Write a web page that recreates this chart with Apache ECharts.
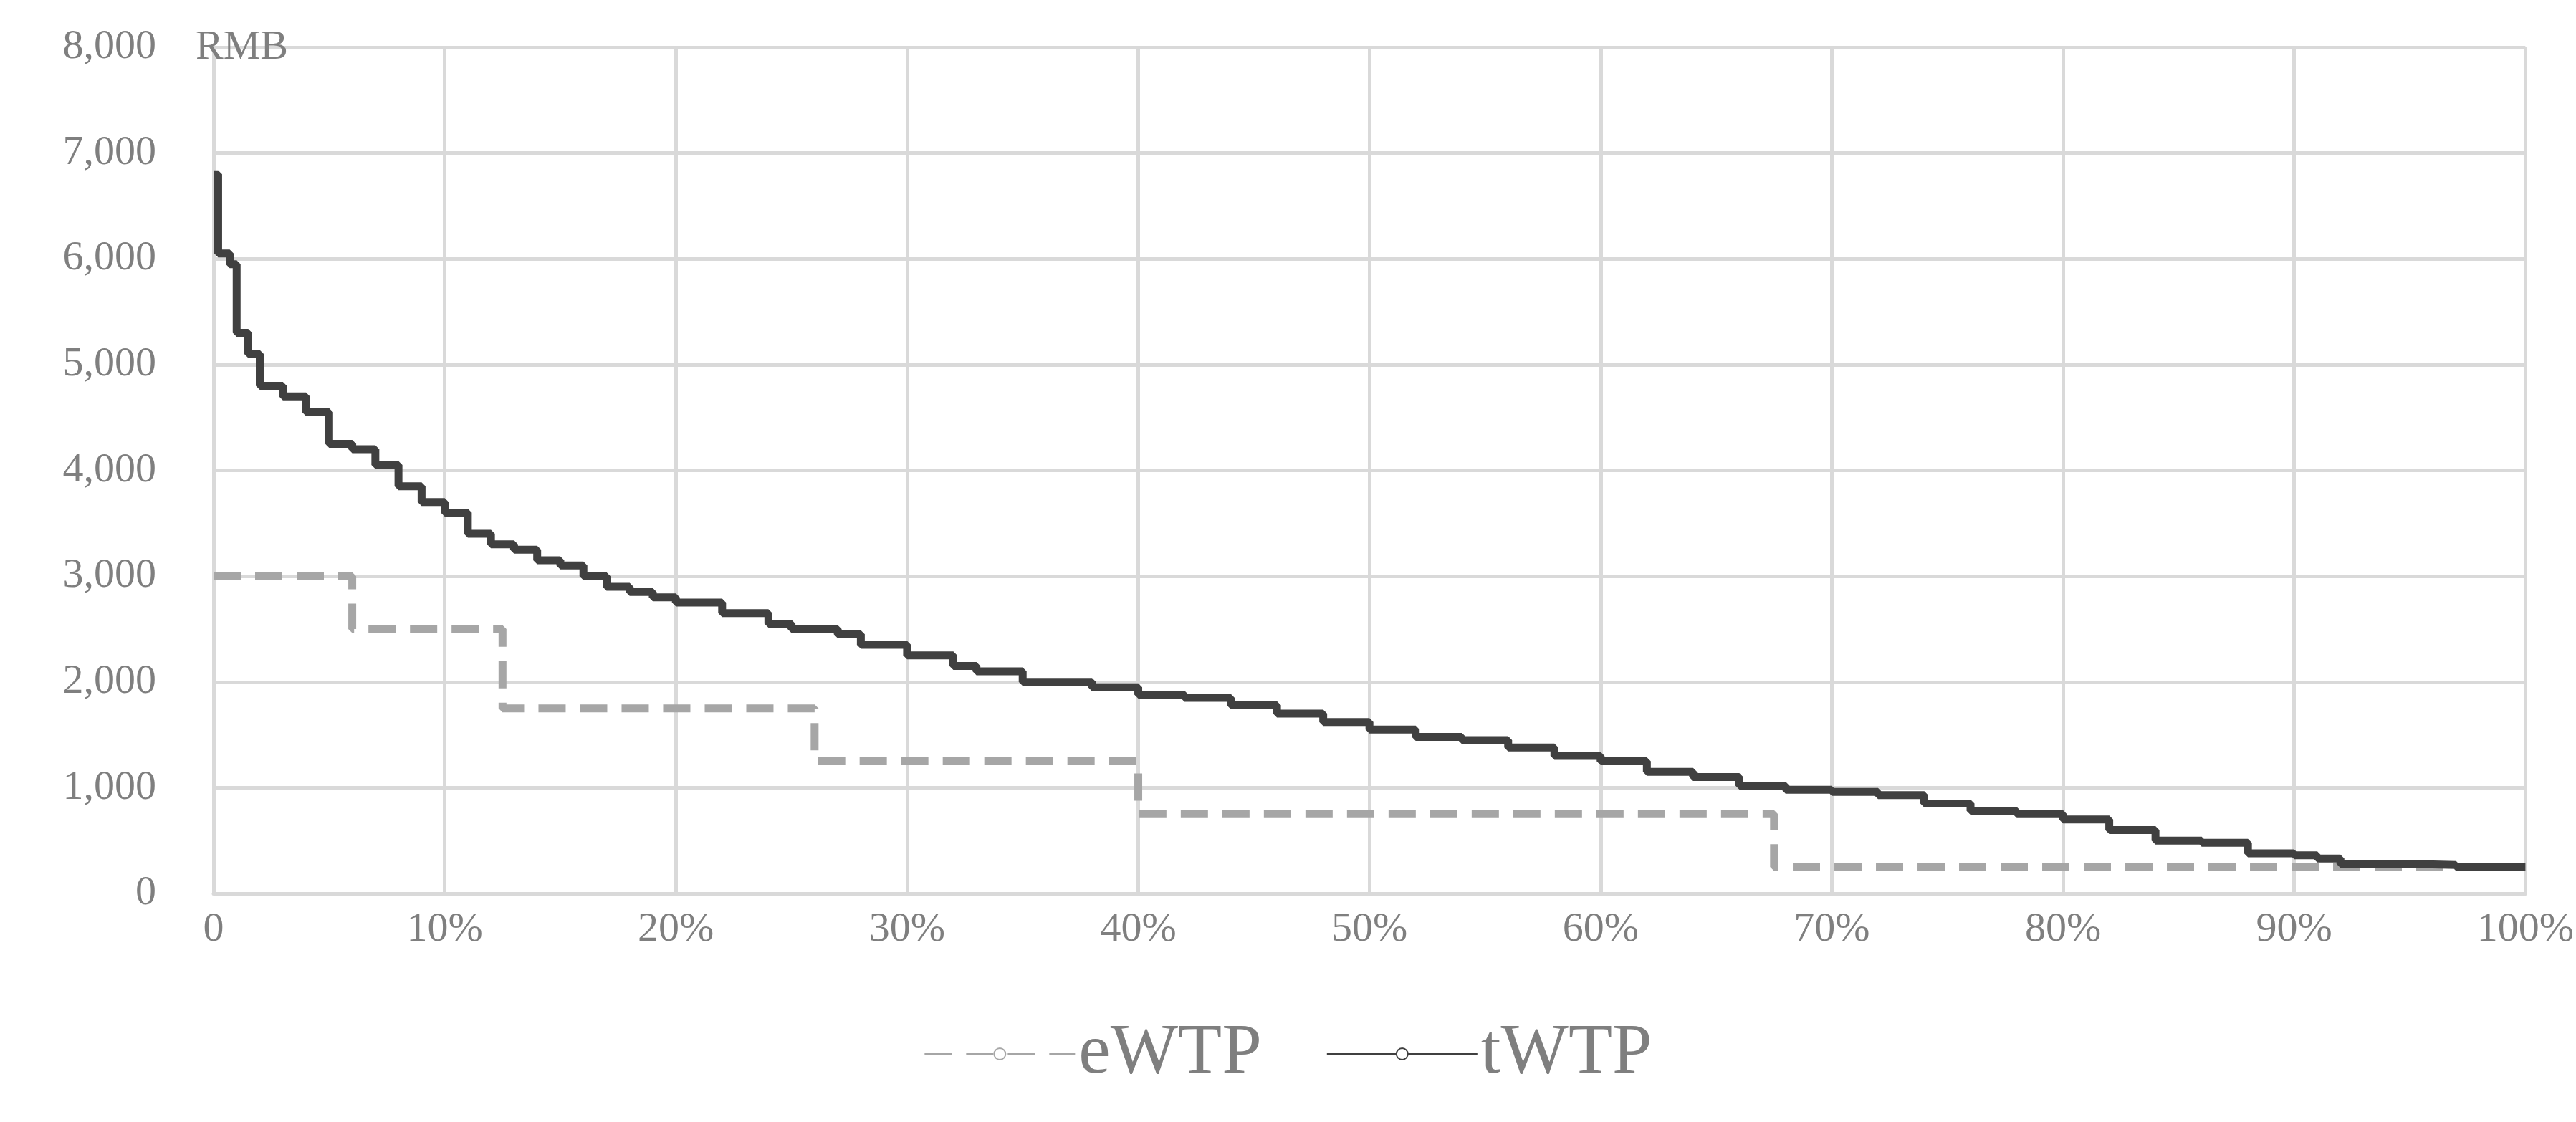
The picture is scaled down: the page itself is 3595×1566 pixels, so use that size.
<!DOCTYPE html>
<html><head><meta charset="utf-8">
<script src="https://cdn.jsdelivr.net/npm/echarts@6/dist/echarts.min.js"></script>
<style>html,body{margin:0;background:#fff}#c{width:3595px;height:1566px}</style>
</head><body><div id="c"></div>
<script>
// share of respondents (fraction) and WTP in RMB
var tX = [0, 0.002, 0.007, 0.01, 0.015, 0.02, 0.03, 0.04, 0.05, 0.06, 0.07, 0.08, 0.09, 0.10, 0.11, 0.12, 0.13, 0.14, 0.15, 0.16, 0.17, 0.18, 0.19, 0.20, 0.22, 0.24, 0.25, 0.27, 0.28, 0.30, 0.32, 0.33, 0.35, 0.38, 0.40, 0.42, 0.44, 0.46, 0.48, 0.50, 0.52, 0.54, 0.56, 0.58, 0.60, 0.62, 0.64, 0.66, 0.68, 0.70, 0.72, 0.74, 0.76, 0.78, 0.80, 0.82, 0.84, 0.86, 0.88, 0.90, 0.91, 0.92, 0.95, 0.97, 1.0];
var tY = [6800, 6050, 5950, 5300, 5100, 4800, 4700, 4550, 4250, 4200, 4050, 3850, 3700, 3600, 3400, 3300, 3250, 3150, 3100, 3000, 2900, 2850, 2800, 2750, 2650, 2550, 2500, 2450, 2350, 2250, 2150, 2100, 2000, 1950, 1880, 1850, 1780, 1700, 1620, 1550, 1480, 1450, 1380, 1300, 1250, 1150, 1100, 1020, 980, 960, 930, 850, 780, 750, 700, 600, 500, 480, 380, 360, 330, 280, 270, 250, 250];
var eX = [0, 0.06, 0.125, 0.26, 0.40, 0.675, 1.0];
var eY = [3000, 2500, 1750, 1250, 750, 250, 250];

function pairs(xs, ys) { return xs.map(function (x, i) { return [x, ys[i]]; }); }

var myChart = echarts.init(document.getElementById('c'));
var font = 'Liberation Serif';
var option = {
    animation: false,
    grid: { left: 298, right: 50, top: 66, bottom: 319 },
    legend: {
        bottom: 40,
        itemWidth: 210, itemHeight: 20, itemGap: 90,
        textStyle: { fontFamily: font, fontSize: 100, color: '#7f7f7f' },
        data: ['eWTP', 'tWTP']
    },
    xAxis: {
        type: 'value', min: 0, max: 1, interval: 0.1,
        axisLine: { lineStyle: { color: '#d9d9d9', width: 5 } },
        axisTick: { show: false },
        splitLine: { lineStyle: { color: '#d9d9d9', width: 5 } },
        axisLabel: {
            margin: 22, fontFamily: font, fontSize: 58, color: '#7f7f7f',
            formatter: function (v) { return v === 0 ? '0' : Math.round(v * 100) + '%'; }
        }
    },
    yAxis: {
        type: 'value', min: 0, max: 8000, interval: 1000,
        name: 'RMB', nameLocation: 'end', nameGap: -30,
        nameTextStyle: { fontFamily: font, fontSize: 58, color: '#7f7f7f', align: 'left', padding: [0, 0, 0, -25] },
        axisLine: { show: false },
        axisTick: { show: false },
        splitLine: { lineStyle: { color: '#d9d9d9', width: 5 } },
        axisLabel: { margin: 80, fontFamily: font, fontSize: 58, color: '#7f7f7f' }
    },
    series: [
        {
            name: 'eWTP', type: 'line', step: 'end', showSymbol: false,
            data: pairs(eX, eY),
            lineStyle: { color: '#a6a6a6', width: 11, type: [38, 20] },
            itemStyle: { color: '#a6a6a6' }
        },
        {
            name: 'tWTP', type: 'line', step: 'end', showSymbol: false,
            data: pairs(tX, tY),
            lineStyle: { color: '#404040', width: 11 },
            itemStyle: { color: '#404040' }
        }
    ]
};
myChart.setOption(option);
</script></body></html>
